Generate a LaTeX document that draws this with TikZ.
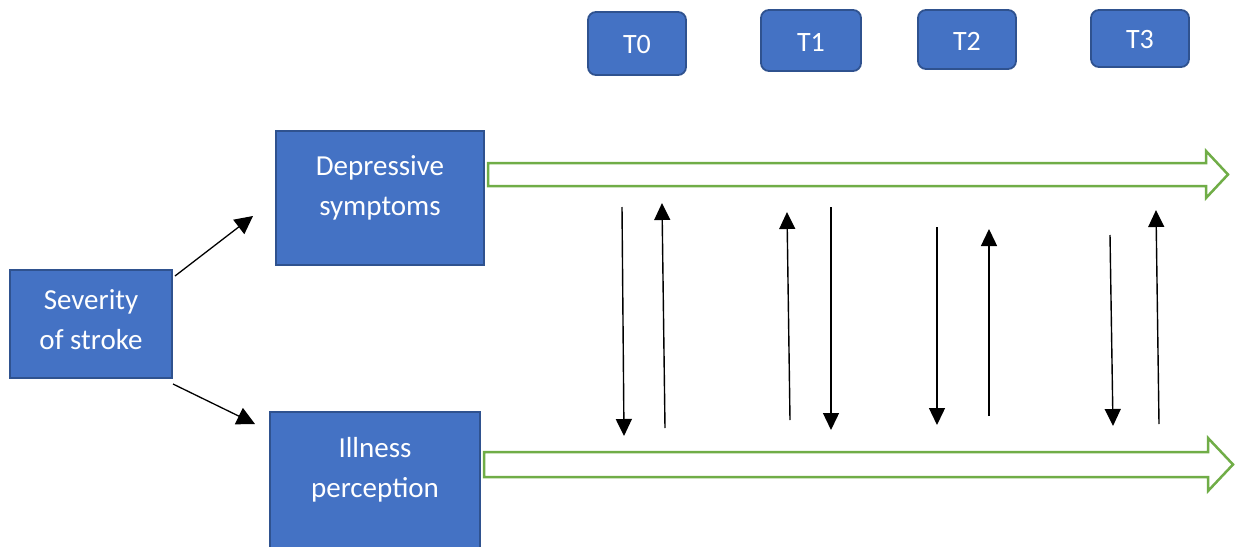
\documentclass[tikz,border=0pt]{standalone}
\usepackage{fontspec}
\setmainfont{Carlito}
\usetikzlibrary{arrows.meta}
\definecolor{boxblue}{HTML}{4472C4}
\definecolor{boxedge}{HTML}{2F528F}
\definecolor{arrgreen}{HTML}{70AD47}
\begin{document}
\begin{tikzpicture}[x=1pt,y=-1pt,
  bluebox/.style={draw=boxedge,fill=boxblue,line width=1.8pt,inner sep=0pt},
  lbl/.style={text=white,font=\fontsize{29}{40}\selectfont,align=center,inner sep=0pt},
  tlbl/.style={text=white,font=\fontsize{28}{30}\selectfont,inner sep=0pt},
  tbox/.style={bluebox,rounded corners=8pt},
  hollow/.style={draw=arrgreen,fill=white,line width=2.5pt,line join=miter},
  conn/.style={-{Triangle[width=16pt,length=17pt]},line width=1.4pt},
  bigconn/.style={-{Triangle[width=18pt,length=18pt]},line width=1.3pt}]
\useasboundingbox (0,0) rectangle (1236,546);
\begin{scope}
\clip (0,0) rectangle (1236,546);
% main boxes
\node[bluebox,minimum width=162pt,minimum height=108pt] (sev) at (91,324) {};
\node[lbl] (sevlbl) at (91,320) {Severity\\of stroke};
\node[bluebox,minimum width=208pt,minimum height=134pt] (dep) at (380,198) {};
\node[lbl] (deplbl) at (380,188) {Depressive\\symptoms};
\node[bluebox,minimum width=210pt,minimum height=148pt] (ill) at (375,486) {};
\node[lbl] (illlbl) at (375,470) {Illness\\perception};
% time boxes
\node[tbox,minimum width=98pt,minimum height=63pt] (t0) at (637,43.5) {};
\node[tlbl] at ([yshift=-1.5pt]t0.center) {T0};
\node[tbox,minimum width=100pt,minimum height=61pt] (t1) at (811,40.5) {};
\node[tlbl] at ([yshift=-1.5pt]t1.center) {T1};
\node[tbox,minimum width=98pt,minimum height=59pt] (t2) at (967,39.5) {};
\node[tlbl] at ([yshift=-1.5pt]t2.center) {T2};
\node[tbox,minimum width=98pt,minimum height=57pt] (t3) at (1140,38.5) {};
\node[tlbl] at ([yshift=-1.5pt]t3.center) {T3};
% green hollow arrows
\draw[hollow] (488,163) -- (1206,163) -- (1206,151) -- (1228,174.5) -- (1206,198) -- (1206,186) -- (488,186) -- cycle;
\draw[hollow] (484,452) -- (1208,452) -- (1208,438) -- (1233,464.5) -- (1208,491) -- (1208,477) -- (484,477) -- cycle;
% diagonal arrows
\coordinate (d1s) at (175,276); \coordinate (d1e) at (253,216);
\coordinate (d2s) at (173,384); \coordinate (d2e) at (255,424);
\draw[bigconn] (d1s) -- (d1e);
\draw[bigconn] (d2s) -- (d2e);
% vertical arrows
\coordinate (a1s) at (622,207);  \coordinate (a1e) at (624,436);
\coordinate (a2s) at (665,428);  \coordinate (a2e) at (662,203);
\coordinate (a3s) at (790,420);  \coordinate (a3e) at (787,212);
\coordinate (a4s) at (831,207);  \coordinate (a4e) at (831,430);
\coordinate (a5s) at (937,227);  \coordinate (a5e) at (937,425);
\coordinate (a6s) at (989,416);  \coordinate (a6e) at (989,229);
\coordinate (a7s) at (1110,235); \coordinate (a7e) at (1113,426);
\coordinate (a8s) at (1159,424); \coordinate (a8e) at (1156,210);
\foreach \i in {1,...,8} {\draw[conn] (a\i s) -- (a\i e);}
\end{scope}
\end{tikzpicture}
\end{document}
